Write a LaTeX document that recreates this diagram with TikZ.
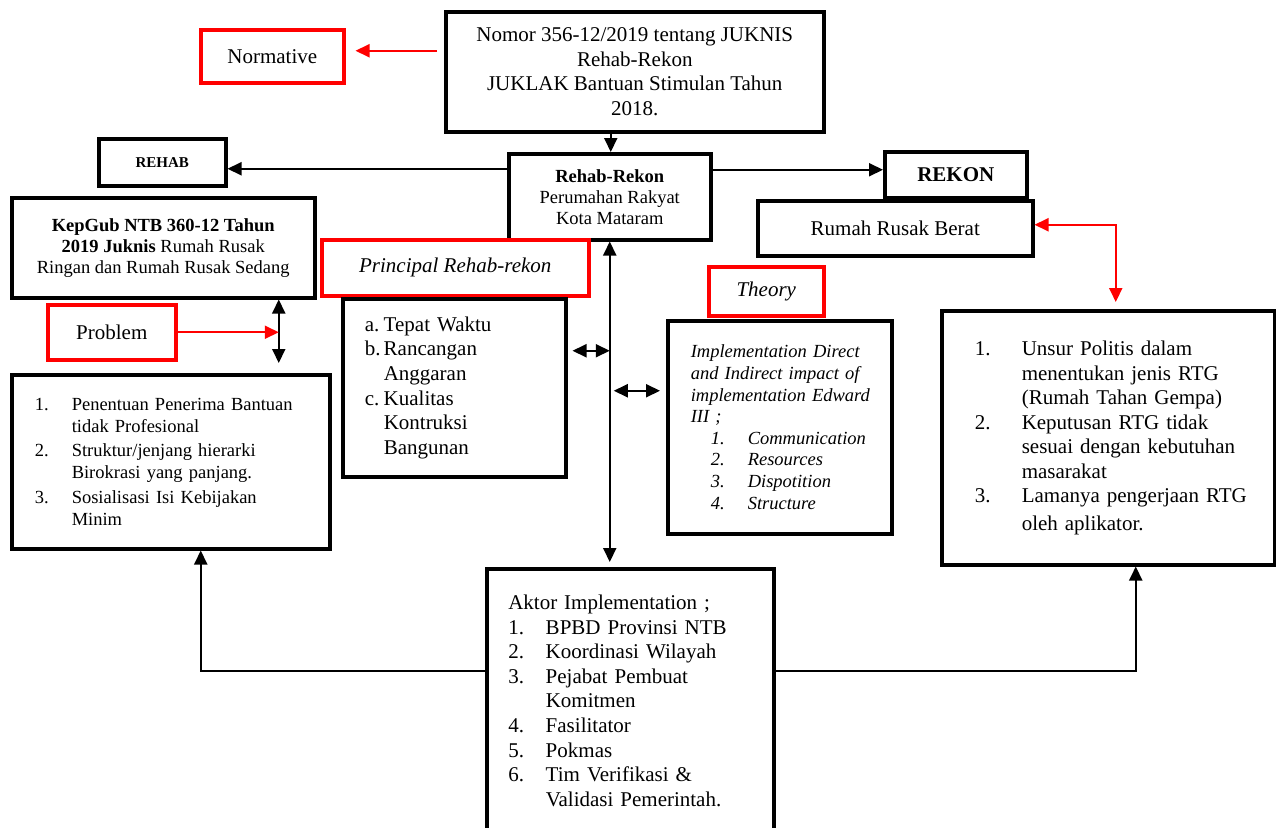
\documentclass[tikz,border=0pt]{standalone}
\usepackage{fontspec}
\setmainfont{Liberation Serif}
\usetikzlibrary{arrows.meta}
\newcommand{\rlitem}[3]{\mbox{\makebox[#1][l]{#2}#3}}
\begin{document}
\begin{tikzpicture}[x=1pt,y=-1pt,
  box/.style={draw=black, line width=3.5pt, inner sep=0pt, anchor=north west},
  rbox/.style={draw=red, line width=3.5pt, inner sep=0pt, anchor=north west, align=center},
  fA/.style={font=\fontsize{21}{24.5}\selectfont},
  fI/.style={font=\fontsize{21}{24.5}\selectfont\itshape},
  fB/.style={font=\fontsize{18.5}{21}\selectfont},
  arr/.style={line width=2pt, -{Triangle[length=14pt,width=13pt]}},
  rarr/.style={color=red, line width=2pt, -{Triangle[length=14pt,width=13pt]}},
  dbl/.style={line width=2pt, {Triangle[length=14pt,width=13pt]}-{Triangle[length=14pt,width=13pt]}},
  rdbl/.style={color=red, line width=2pt, {Triangle[length=14pt,width=13pt]}-{Triangle[length=14pt,width=13pt]}},
]
\fill[white] (0,0) rectangle (1276,827);
\useasboundingbox (0,0) rectangle (1276,827);
\clip (0,0) rectangle (1276,827);

% boxes
\node[box, minimum width=378pt, minimum height=120pt, fA, align=center] (top) at (444,10)
  {Nomor 356-12/2019 tentang JUKNIS\\Rehab-Rekon\\JUKLAK Bantuan Stimulan Tahun\\2018.};
\node[rbox, minimum width=143pt, minimum height=53pt, fA] (norm) at (199,28) {Normative};
\node[box, minimum width=202pt, minimum height=86pt, fB, align=center] (rr) at (507,152)
  {\textbf{Rehab-Rekon}\\Perumahan Rakyat\\Kota Mataram};
\node[box, minimum width=127pt, minimum height=47pt, font=\fontsize{15}{18}\selectfont\bfseries] (rehab) at (97,137) {REHAB};
\node[box, minimum width=142pt, minimum height=46pt, font=\fontsize{21}{24}\selectfont\bfseries] (rekon) at (883,150) {REKON};
\node[box, minimum width=275pt, minimum height=55pt, fA] (rumah) at (756,199) {Rumah Rusak Berat};
\node[box, minimum width=303pt, minimum height=100pt, fB, align=center] (kepgub) at (10,196)
  {\textbf{KepGub NTB 360-12 Tahun}\\\textbf{2019 Juknis} Rumah Rusak\\Ringan dan Rumah Rusak Sedang};
\node[rbox, minimum width=267pt, minimum height=56pt, fI] (princ) at (320,238) {Principal Rehab-rekon};
\node[rbox, minimum width=115pt, minimum height=49pt, fI] (theory) at (707,265) {Theory};
\node[rbox, minimum width=128pt, minimum height=55pt, fA] (problem) at (46,303) {Problem};

\node[box, minimum height=174pt, inner xsep=23pt, text width=272pt, align=left,
      font=\fontsize{18.5}{22}\selectfont] (probl) at (10,373)
  {\rlitem{37pt}{1.}{Penentuan Penerima Bantuan}\\
   \rlitem{37pt}{}{tidak Profesional}\\[2.5pt]
   \rlitem{37pt}{2.}{Struktur/jenjang hierarki}\\
   \rlitem{37pt}{}{Birokrasi yang panjang.}\\[2.5pt]
   \rlitem{37pt}{3.}{Sosialisasi Isi Kebijakan}\\
   \rlitem{37pt}{}{Minim}};

\node[box, minimum height=178pt, inner xsep=22pt, text width=179pt, align=left,
      font=\fontsize{21}{24.7}\selectfont] (plist) at (341,297)
  {\rlitem{19pt}{a.}{Tepat Waktu}\\
   \rlitem{19pt}{b.}{Rancangan}\\
   \rlitem{19pt}{}{Anggaran}\\
   \rlitem{19pt}{c.}{Kualitas}\\
   \rlitem{19pt}{}{Kontruksi}\\
   \rlitem{19pt}{}{Bangunan}};

\node[box, minimum height=213pt, inner xsep=23pt, text width=178pt, align=left,
      font=\fontsize{18.5}{21.6}\selectfont\itshape] (impl) at (666,319)
  {\mbox{Implementation Direct}\\
   \mbox{and Indirect impact of}\\
   \mbox{implementation Edward}\\
   \mbox{III ;}\\
   \rlitem{57pt}{\hspace*{20pt}1.}{Communication}\\
   \rlitem{57pt}{\hspace*{20pt}2.}{Resources}\\
   \rlitem{57pt}{\hspace*{20pt}3.}{Dispotition}\\
   \rlitem{57pt}{\hspace*{20pt}4.}{Structure}};

\node[box, minimum height=254pt, inner xsep=33pt, text width=267pt, align=left,
      font=\fontsize{21}{24.5}\selectfont] (rightb) at (940,309)
  {\rlitem{47pt}{1.}{Unsur Politis dalam}\\
   \rlitem{47pt}{}{menentukan jenis RTG}\\
   \rlitem{47pt}{}{(Rumah Tahan Gempa)}\\
   \rlitem{47pt}{2.}{Keputusan RTG tidak}\\
   \rlitem{47pt}{}{sesuai dengan kebutuhan}\\
   \rlitem{47pt}{}{masarakat}\\
   \rlitem{47pt}{3.}{Lamanya pengerjaan RTG}\\[3pt]
   \rlitem{47pt}{}{oleh aplikator.}};

\node[box, minimum height=264pt, inner xsep=21.5pt, text width=244pt, align=left,
      font=\fontsize{21}{24.6}\selectfont] (aktor) at (485,567)
  {\mbox{Aktor Implementation ;}\\
   \rlitem{37.5pt}{1.}{BPBD Provinsi NTB}\\
   \rlitem{37.5pt}{2.}{Koordinasi Wilayah}\\
   \rlitem{37.5pt}{3.}{Pejabat Pembuat}\\
   \rlitem{37.5pt}{}{Komitmen}\\
   \rlitem{37.5pt}{4.}{Fasilitator}\\
   \rlitem{37.5pt}{5.}{Pokmas}\\
   \rlitem{37.5pt}{6.}{Tim Verifikasi \&}\\
   \rlitem{37.5pt}{}{Validasi Pemerintah.}};

% connectors
\coordinate (t1) at ([xshift=-24pt]top.south);
\draw[arr] (t1) -- (t1 |- rr.north);

\coordinate (n1) at ([shift={(-7pt,21pt)}]top.west);
\coordinate (n2) at ([xshift=10pt]norm.east);
\draw[rarr] (n1) -- (n1 -| n2);

\coordinate (r1) at ([yshift=28pt]rr.west);
\draw[arr] (r1) -- (r1 -| rehab.east);
\coordinate (r2) at ([yshift=27pt]rr.east);
\draw[arr] (r2) -- (r2 -| rekon.west);

\coordinate (q1) at ([yshift=3.5pt]rumah.east);
\coordinate (q2) at ([shift={(7.5pt,7pt)}]rightb.north);
\draw[rdbl] (q1) -| (q2);

\coordinate (a1) at ([yshift=5pt]aktor.north);
\draw[dbl] (rr.south) -- (rr.south |- a1);

\coordinate (p1) at ([shift={(5pt,37pt)}]plist.east);
\draw[dbl] (p1) -- (p1 -| rr.south);

\coordinate (i1) at ([shift={(-6pt,36.5pt)}]impl.west);
\coordinate (i2) at ([xshift=4pt]rr.south);
\draw[dbl] (i1) -- (i1 -| i2);

\coordinate (v1) at ([xshift=115.5pt]kepgub.south);
\coordinate (v2) at ([yshift=10pt]probl.north);
\draw[dbl] (v1) -- (v1 |- v2);

\draw[rarr] (problem.east) -- (problem.east -| v1);

\coordinate (b1) at ([yshift=30pt]aktor.west);
\coordinate (b2) at ([xshift=30pt]probl.south);
\draw[arr] (b1) -| (b2);

\coordinate (b3) at ([yshift=30pt]aktor.east);
\coordinate (b4) at ([xshift=27.5pt]rightb.south);
\draw[arr] (b3) -| (b4);
\end{tikzpicture}
\end{document}
